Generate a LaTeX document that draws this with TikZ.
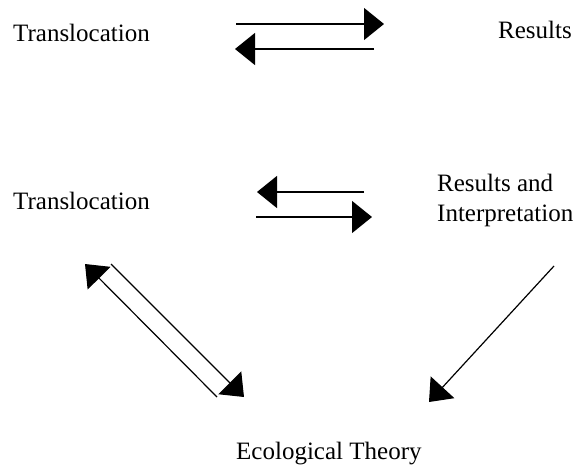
\documentclass[tikz,border=0pt]{standalone}
\usepackage{fontspec}
\setmainfont{Liberation Serif}
\usepackage{tikz}
\usetikzlibrary{arrows.meta}

\tikzset{
  lbl/.style={inner sep=0pt, anchor=base west, align=left,
    font=\fontsize{25}{30}\selectfont},
  link/.style={line width=1.2pt, -{Triangle[length=20pt,width=32pt]}}
}

\begin{document}
\begin{tikzpicture}[x=1pt,y=-1pt]
\useasboundingbox (0,0) rectangle (587,466);

% labels
\node[lbl] (trA) at (13,41.5) {Translocation};
\node[lbl] (resA) at (498,38.5) {Results};
\node[lbl] (trB) at (13,209) {Translocation};
\node[lbl] (resB) at (437,221.5) {Results and\\Interpretation};
\node[lbl] (eco) at (236,459) {Ecological Theory};

% end points of the arrows
\coordinate (p1) at (236,24);   \coordinate (q1) at (384,24);
\coordinate (p2) at (374,49);   \coordinate (q2) at (235,49);
\coordinate (p3) at (364,192);  \coordinate (q3) at (257,192);
\coordinate (p4) at (256,217);  \coordinate (q4) at (372,217);
\coordinate (p5) at (217,397);  \coordinate (q5) at (85,264);
\coordinate (p6) at (111,264);  \coordinate (q6) at (244,397);
\coordinate (p7) at (554,266);  \coordinate (q7) at (429,402);

\foreach \i in {1,...,7}
  \draw[link] (p\i) -- (q\i);

\end{tikzpicture}
\end{document}
